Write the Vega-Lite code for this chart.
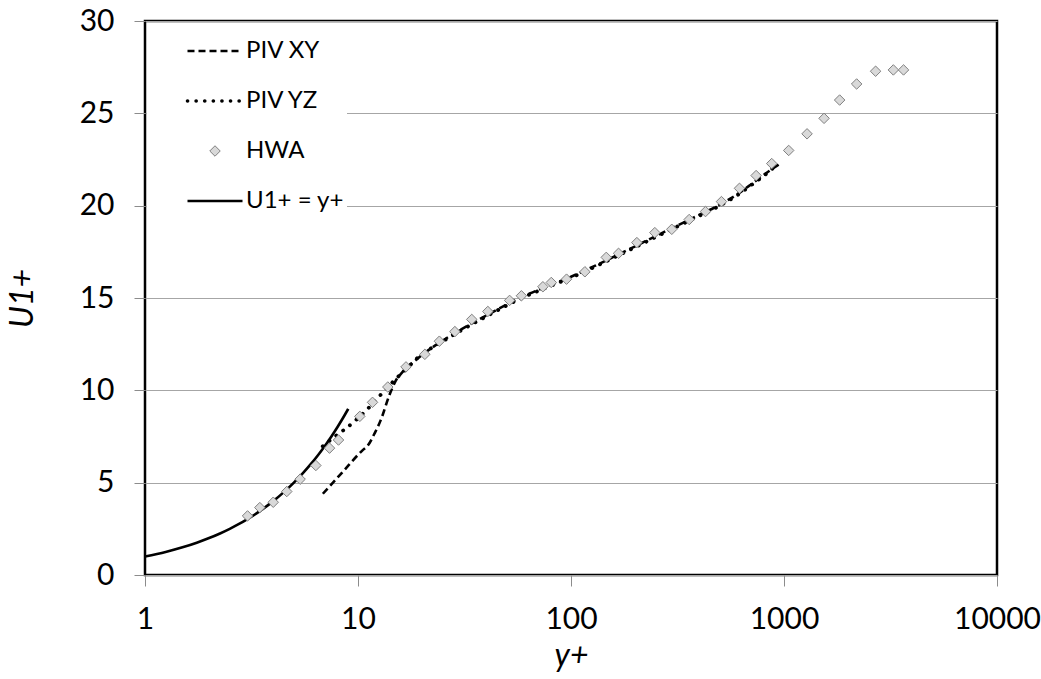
{
  "$schema": "https://vega.github.io/schema/vega-lite/v6.json",
  "width": 852,
  "height": 554,
  "autosize": {"type": "none"},
  "padding": {"left": 145, "top": 21, "right": 44, "bottom": 104},
  "background": "white",
  "config": {
    "font": "Lato",
    "view": {"stroke": "#000000", "strokeWidth": 2.5},
    "axis": {"labelFont": "Lato", "titleFont": "Lato", "labelColor": "#000000", "titleColor": "#000000"}
  },
  "datasets": {
    "d": [
      {"series": "U1+ = y+", "yplus": 1, "u": 1},
      {"series": "U1+ = y+", "yplus": 1.25, "u": 1.25},
      {"series": "U1+ = y+", "yplus": 1.5, "u": 1.5},
      {"series": "U1+ = y+", "yplus": 1.75, "u": 1.75},
      {"series": "U1+ = y+", "yplus": 2, "u": 2},
      {"series": "U1+ = y+", "yplus": 2.25, "u": 2.25},
      {"series": "U1+ = y+", "yplus": 2.5, "u": 2.5},
      {"series": "U1+ = y+", "yplus": 2.75, "u": 2.75},
      {"series": "U1+ = y+", "yplus": 3, "u": 3},
      {"series": "U1+ = y+", "yplus": 3.5, "u": 3.5},
      {"series": "U1+ = y+", "yplus": 4, "u": 4},
      {"series": "U1+ = y+", "yplus": 4.5, "u": 4.5},
      {"series": "U1+ = y+", "yplus": 5, "u": 5},
      {"series": "U1+ = y+", "yplus": 5.5, "u": 5.5},
      {"series": "U1+ = y+", "yplus": 6, "u": 6},
      {"series": "U1+ = y+", "yplus": 6.5, "u": 6.5},
      {"series": "U1+ = y+", "yplus": 7, "u": 7},
      {"series": "U1+ = y+", "yplus": 7.5, "u": 7.5},
      {"series": "U1+ = y+", "yplus": 8, "u": 8},
      {"series": "U1+ = y+", "yplus": 8.5, "u": 8.5},
      {"series": "U1+ = y+", "yplus": 9, "u": 9},

      {"series": "PIV XY", "yplus": 6.84, "u": 4.4},
      {"series": "PIV XY", "yplus": 8.5, "u": 5.6},
      {"series": "PIV XY", "yplus": 10.5, "u": 6.75},
      {"series": "PIV XY", "yplus": 11.1, "u": 7.0},
      {"series": "PIV XY", "yplus": 12.0, "u": 7.7},
      {"series": "PIV XY", "yplus": 12.8, "u": 8.4},
      {"series": "PIV XY", "yplus": 14.0, "u": 9.7},
      {"series": "PIV XY", "yplus": 15.0, "u": 10.5},
      {"series": "PIV XY", "yplus": 16.2, "u": 11.0},
      {"series": "PIV XY", "yplus": 18.5, "u": 11.6},
      {"series": "PIV XY", "yplus": 21, "u": 12.1},
      {"series": "PIV XY", "yplus": 25, "u": 12.7},
      {"series": "PIV XY", "yplus": 30, "u": 13.25},
      {"series": "PIV XY", "yplus": 40, "u": 14.05},
      {"series": "PIV XY", "yplus": 50, "u": 14.65},
      {"series": "PIV XY", "yplus": 60, "u": 15.1},
      {"series": "PIV XY", "yplus": 80, "u": 15.7},
      {"series": "PIV XY", "yplus": 100, "u": 16.15},
      {"series": "PIV XY", "yplus": 130, "u": 16.75},
      {"series": "PIV XY", "yplus": 160, "u": 17.25},
      {"series": "PIV XY", "yplus": 200, "u": 17.8},
      {"series": "PIV XY", "yplus": 250, "u": 18.35},
      {"series": "PIV XY", "yplus": 300, "u": 18.8},
      {"series": "PIV XY", "yplus": 400, "u": 19.5},
      {"series": "PIV XY", "yplus": 500, "u": 20.05},
      {"series": "PIV XY", "yplus": 600, "u": 20.6},
      {"series": "PIV XY", "yplus": 700, "u": 21.15},
      {"series": "PIV XY", "yplus": 800, "u": 21.65},
      {"series": "PIV XY", "yplus": 950, "u": 22.25},

      {"series": "PIV YZ", "yplus": 6.83, "u": 6.97},
      {"series": "PIV YZ", "yplus": 8.0, "u": 7.6},
      {"series": "PIV YZ", "yplus": 8.8, "u": 7.95},
      {"series": "PIV YZ", "yplus": 11.0, "u": 8.95},
      {"series": "PIV YZ", "yplus": 12.8, "u": 9.77},
      {"series": "PIV YZ", "yplus": 15.0, "u": 10.6},
      {"series": "PIV YZ", "yplus": 17.0, "u": 11.2},
      {"series": "PIV YZ", "yplus": 19.0, "u": 11.75},
      {"series": "PIV YZ", "yplus": 25, "u": 12.65},
      {"series": "PIV YZ", "yplus": 30, "u": 13.2},
      {"series": "PIV YZ", "yplus": 40, "u": 14.0},
      {"series": "PIV YZ", "yplus": 50, "u": 14.6},
      {"series": "PIV YZ", "yplus": 60, "u": 15.05},
      {"series": "PIV YZ", "yplus": 80, "u": 15.65},
      {"series": "PIV YZ", "yplus": 100, "u": 16.1},
      {"series": "PIV YZ", "yplus": 130, "u": 16.7},
      {"series": "PIV YZ", "yplus": 160, "u": 17.2},
      {"series": "PIV YZ", "yplus": 200, "u": 17.75},
      {"series": "PIV YZ", "yplus": 250, "u": 18.3},
      {"series": "PIV YZ", "yplus": 300, "u": 18.75},
      {"series": "PIV YZ", "yplus": 400, "u": 19.45},
      {"series": "PIV YZ", "yplus": 500, "u": 20.0},
      {"series": "PIV YZ", "yplus": 600, "u": 20.55},
      {"series": "PIV YZ", "yplus": 700, "u": 21.1},
      {"series": "PIV YZ", "yplus": 800, "u": 21.6},
      {"series": "PIV YZ", "yplus": 944, "u": 22.3},

      {"series": "HWA", "yplus": 3.03, "u": 3.2},
      {"series": "HWA", "yplus": 3.46, "u": 3.65},
      {"series": "HWA", "yplus": 4.0, "u": 3.94},
      {"series": "HWA", "yplus": 4.63, "u": 4.52},
      {"series": "HWA", "yplus": 5.35, "u": 5.19},
      {"series": "HWA", "yplus": 6.34, "u": 5.93},
      {"series": "HWA", "yplus": 7.35, "u": 6.87},
      {"series": "HWA", "yplus": 8.1, "u": 7.31},
      {"series": "HWA", "yplus": 10.2, "u": 8.59},
      {"series": "HWA", "yplus": 11.7, "u": 9.35},
      {"series": "HWA", "yplus": 13.8, "u": 10.18},
      {"series": "HWA", "yplus": 16.8, "u": 11.27},
      {"series": "HWA", "yplus": 20.6, "u": 11.95},
      {"series": "HWA", "yplus": 24.1, "u": 12.66},
      {"series": "HWA", "yplus": 28.5, "u": 13.18},
      {"series": "HWA", "yplus": 34.2, "u": 13.84},
      {"series": "HWA", "yplus": 40.7, "u": 14.27},
      {"series": "HWA", "yplus": 51.5, "u": 14.87},
      {"series": "HWA", "yplus": 58.5, "u": 15.12},
      {"series": "HWA", "yplus": 73.8, "u": 15.61},
      {"series": "HWA", "yplus": 80.8, "u": 15.84},
      {"series": "HWA", "yplus": 95.3, "u": 16.02},
      {"series": "HWA", "yplus": 116.2, "u": 16.42},
      {"series": "HWA", "yplus": 146.4, "u": 17.2},
      {"series": "HWA", "yplus": 167.2, "u": 17.42},
      {"series": "HWA", "yplus": 203.8, "u": 18.0},
      {"series": "HWA", "yplus": 247.5, "u": 18.54},
      {"series": "HWA", "yplus": 297.3, "u": 18.72},
      {"series": "HWA", "yplus": 358.8, "u": 19.25},
      {"series": "HWA", "yplus": 427.9, "u": 19.68},
      {"series": "HWA", "yplus": 508.6, "u": 20.22},
      {"series": "HWA", "yplus": 617.9, "u": 20.94},
      {"series": "HWA", "yplus": 739.8, "u": 21.63},
      {"series": "HWA", "yplus": 875.6, "u": 22.28},
      {"series": "HWA", "yplus": 1052, "u": 22.99},
      {"series": "HWA", "yplus": 1283, "u": 23.89},
      {"series": "HWA", "yplus": 1542, "u": 24.73},
      {"series": "HWA", "yplus": 1825, "u": 25.72},
      {"series": "HWA", "yplus": 2193, "u": 26.59},
      {"series": "HWA", "yplus": 2692, "u": 27.28},
      {"series": "HWA", "yplus": 3261, "u": 27.35},
      {"series": "HWA", "yplus": 3641, "u": 27.35}
    ]
  },
  "data": {"name": "d"},
  "encoding": {
    "x": {
      "field": "yplus", "type": "quantitative",
      "scale": {"type": "log", "domain": [1, 10000], "nice": false},
      "axis": {
        "title": "y+", "titleFontStyle": "italic", "titleFontWeight": "normal", "titleFontSize": 32, "titlePadding": 6,
        "values": [1, 10, 100, 1000, 10000], "format": "d",
        "labelFontSize": 30, "labelPadding": 18, "tickSize": 11, "tickColor": "#8c8c8c",
        "domain": false, "grid": false, "labelFlush": false, "labelOverlap": false
      }
    },
    "y": {
      "field": "u", "type": "quantitative",
      "scale": {"domain": [0, 30], "nice": false, "zero": true},
      "axis": {
        "title": "U1+", "titleFontStyle": "italic", "titleFontWeight": "normal", "titleFontSize": 32, "titlePadding": 40,
        "values": [0, 5, 10, 15, 20, 25, 30],
        "labelFontSize": 30, "labelPadding": 20, "tickSize": 11, "tickColor": "#8c8c8c",
        "domain": false, "grid": true, "gridColor": "#a6a6a6", "gridWidth": 1.2, "labelFlush": false
      }
    }
  },
  "layer": [
    {
      "transform": [{"filter": "datum.series === 'PIV XY'"}],
      "mark": {"type": "line", "strokeWidth": 2.6, "strokeDash": [7, 4], "interpolate": "monotone"},
      "encoding": {
        "color": {
          "field": "series", "type": "nominal",
          "scale": {"domain": ["PIV XY", "PIV YZ", "HWA", "U1+ = y+"], "range": ["#000000", "#000000", "#808080", "#000000"]},
          "legend": {
            "title": null,
            "orient": "none", "legendX": 2, "legendY": 15,
            "padding": 3, "fillColor": "white", "strokeColor": null,
            "symbolSize": 2500, "symbolOffset": 53, "symbolType": "stroke",
            "rowPadding": 26, "labelOffset": 19,
            "labelFont": "Lato", "labelFontSize": 24, "labelColor": "#000000", "labelLimit": 500,
            "labelExpr": "datum.label + '\u00a0\u00a0\u00a0\u00a0\u00a0\u00a0\u00a0\u00a0\u00a0'",
            "encode": {
              "symbols": {
                "update": {
                  "shape": {"signal": "datum.value === 'HWA' ? 'diamond' : 'stroke'"},
                  "size": {"signal": "datum.value === 'HWA' ? 110 : 3025"},
                  "stroke": {"signal": "datum.value === 'HWA' ? '#808080' : '#000000'"},
                  "fill": {"signal": "datum.value === 'HWA' ? '#d9d9d9' : 'transparent'"},
                  "strokeWidth": {"signal": "datum.value === 'HWA' ? 1 : (datum.value === 'PIV YZ' ? 3.6 : 2.6)"},
                  "strokeDash": {"signal": "datum.value === 'PIV XY' ? [7, 4] : (datum.value === 'PIV YZ' ? [0.1, 8.5] : [])"},
                  "strokeCap": {"signal": "datum.value === 'PIV YZ' ? 'round' : 'butt'"},
                  "opacity": {"value": 1}
                }
              }
            }
          }
        }
      }
    },
    {
      "transform": [{"filter": "datum.series === 'PIV YZ'"}],
      "mark": {"type": "line", "strokeWidth": 3.8, "strokeDash": [0.1, 8.5], "strokeCap": "round", "interpolate": "monotone"},
      "encoding": {"color": {"field": "series", "type": "nominal"}}
    },
    {
      "transform": [{"filter": "datum.series === 'U1+ = y+'"}],
      "mark": {"type": "line", "strokeWidth": 2.6, "interpolate": "monotone"},
      "encoding": {"color": {"field": "series", "type": "nominal"}}
    },
    {
      "transform": [{"filter": "datum.series === 'HWA'"}],
      "mark": {"type": "point", "shape": "diamond", "size": 110, "filled": true, "fill": "#d9d9d9", "stroke": "#808080", "strokeWidth": 1, "opacity": 1}
    }
  ]
}
